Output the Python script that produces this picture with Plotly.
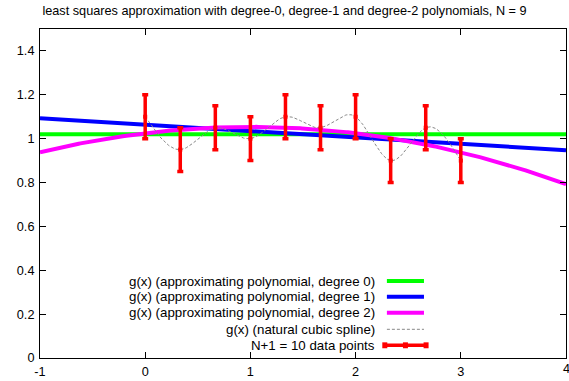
import numpy as np
import plotly.graph_objects as go

# ---- data ----
x_data = [0, 1/3, 2/3, 1, 4/3, 5/3, 2, 7/3, 8/3, 3]
y_data = [1.10, 0.95, 1.05, 1.00, 1.10, 1.05, 1.10, 0.90, 1.05, 0.90]
y_err = [0.1] * 10

title = "least squares approximation with degree-0, degree-1 and degree-2 polynomials, N = 9"
legend_labels = [
    "g(x) (approximating polynomial, degree 0)",
    "g(x) (approximating polynomial, degree 1)",
    "g(x) (approximating polynomial, degree 2)",
    "g(x) (natural cubic spline)",
    "N+1 = 10 data points",
]
x_ticks = [-1, 0, 1, 2, 3, 4]
fit_colors = ["#00ff00", "#0000ff", "#ff00ff"]

xd = np.array(x_data)
yd = np.array(y_data)

# least squares fits
xf = np.linspace(-1, 4, 300)
fits = [np.polyval(np.polyfit(xd, yd, d), xf) for d in range(3)]

# natural cubic spline
def natural_spline(x, y, xs):
    n = len(x) - 1
    h = np.diff(x)
    A = np.zeros((n + 1, n + 1))
    b = np.zeros(n + 1)
    A[0, 0] = 1
    A[n, n] = 1
    for i in range(1, n):
        A[i, i - 1] = h[i - 1]
        A[i, i] = 2 * (h[i - 1] + h[i])
        A[i, i + 1] = h[i]
        b[i] = 6 * ((y[i + 1] - y[i]) / h[i] - (y[i] - y[i - 1]) / h[i - 1])
    M = np.linalg.solve(A, b)
    out = np.empty_like(xs)
    for k, t in enumerate(xs):
        i = min(max(np.searchsorted(x, t) - 1, 0), n - 1)
        a = x[i + 1] - t
        c = t - x[i]
        out[k] = (M[i] * a**3 + M[i + 1] * c**3) / (6 * h[i]) \
            + (y[i] / h[i] - M[i] * h[i] / 6) * a \
            + (y[i + 1] / h[i] - M[i + 1] * h[i] / 6) * c
    return out

xs = np.linspace(0, 3, 300)
ys = natural_spline(xd, yd, xs)

fig = go.Figure()
for f, c in zip(fits, fit_colors):
    fig.add_trace(go.Scatter(x=xf, y=f, mode="lines", line=dict(color=c, width=4),
                             hoverinfo="skip"))
fig.add_trace(go.Scatter(x=xs, y=ys, mode="lines",
                         line=dict(color="#888888", width=1, dash="3px,2px")))
fig.add_trace(go.Scatter(x=x_data, y=y_data, mode="markers",
                         marker=dict(color="#ff0000", size=4, symbol="square"),
                         error_y=dict(type="data", array=y_err, color="#ff0000",
                                      thickness=3.5, width=3)))

FS = 12.7
LFS = 13.3
# manual legend (text right-aligned, sample on the right, like gnuplot)
rows_y = [0.234, 0.1863, 0.1377, 0.0872, 0.0386]
tx, s0, s1 = 0.641, 0.6595, 0.730
annotations = []
shapes = []
for i, (lab, ry) in enumerate(zip(legend_labels, rows_y)):
    annotations.append(dict(x=tx, y=ry, xref="paper", yref="paper", text=lab,
                            showarrow=False, xanchor="right", yanchor="middle",
                            font=dict(size=LFS, color="black")))
    if i < 3:
        shapes.append(dict(type="line", xref="paper", yref="paper", x0=s0, x1=s1,
                           y0=ry, y1=ry, line=dict(color=fit_colors[i], width=4)))
    elif i == 3:
        shapes.append(dict(type="line", xref="paper", yref="paper", x0=s0, x1=s1,
                           y0=ry, y1=ry, line=dict(color="#888888", width=1, dash="3px,2px")))
    else:
        shapes.append(dict(type="line", xref="paper", yref="paper", x0=s0 - 0.004, x1=s1 + 0.004,
                           y0=ry, y1=ry, line=dict(color="#ff0000", width=3.5)))
        for xx in (s0 - 0.004, (s0 + s1) / 2, s1 + 0.004):
            shapes.append(dict(type="line", xref="paper", yref="paper", x0=xx, x1=xx,
                               y0=ry - 0.009, y1=ry + 0.009,
                               line=dict(color="#ff0000", width=5)))

# last x tick label ("4") sits at the very edge of the page; draw it as an annotation
annotations.append(dict(x=x_ticks[-1], y=0, xref="x", yref="paper", text=str(x_ticks[-1]),
                        showarrow=False, xanchor="center", yanchor="top", yshift=-2,
                        font=dict(size=FS, color="black")))

axis_common = dict(showline=True, linecolor="black", linewidth=1, mirror="allticks",
                   ticks="inside", ticklen=6, tickcolor="black", showgrid=False,
                   zeroline=False, tickfont=dict(size=FS, color="black"))

fig.update_layout(
    width=569, height=381,
    margin=dict(l=40, r=3, t=29, b=23),
    paper_bgcolor="white", plot_bgcolor="white",
    font=dict(family="Liberation Sans, Arial, sans-serif", color="black"),
    title=dict(text=title, x=0.5, xanchor="center", y=0.972, yanchor="middle",
               font=dict(size=FS, color="black")),
    showlegend=False,
    xaxis=dict(range=[-1, 4], tickvals=x_ticks,
               ticktext=[str(t) for t in x_ticks], ticklabelstandoff=2,
               **axis_common),
    yaxis=dict(range=[0, 1.5], dtick=0.2, tick0=0, ticklabelstandoff=2, **axis_common),
    annotations=annotations,
    shapes=shapes,
)

fig.write_html("out.html")
